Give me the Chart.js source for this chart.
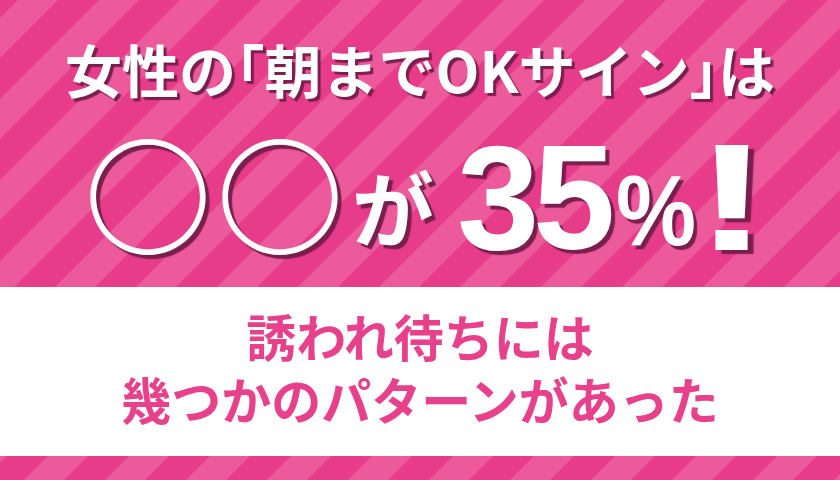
<!DOCTYPE html>
<html lang="ja">
<head>
<meta charset="utf-8">
<script src="https://cdn.jsdelivr.net/npm/chart.js@4.4.1/dist/chart.umd.min.js"></script>
<style>
  html,body{margin:0;padding:0;width:840px;height:480px;overflow:hidden;background:#e73c8a;}
  #wrap{position:relative;width:840px;height:480px;}
  #c{position:absolute;left:0;top:0;}
  .t{position:absolute;white-space:nowrap;line-height:1;margin:0;}
  .jp{font-family:"Noto Sans CJK JP","Noto Sans",sans-serif;font-weight:700;}
  .en{font-family:"Liberation Sans",Arial,sans-serif;font-weight:700;}
  .w{color:#fff;}
  .sh3{text-shadow:3px 3px 1px #7a1f4d;}
  .sh4{text-shadow:4px 4px 1px #7a1f4d;}
  .pk{color:#e8418b;}
  .bl{margin-left:-0.5em;}
  .br{margin-right:-0.5em;}
</style>
</head>
<body>
<div id="wrap">
  <canvas id="c" width="840" height="480"></canvas>
</div>
<script>
// ---- content ----
const headline = ["女性の", "「", "朝までOKサイン", "」", "は"];
const placeholder = ["○", "○"];
const particle = ["が"];
const percentValue = [35];
const percentSign = ["%"];
const exclaim = ["!"];
const subLines = ["誘われ待ちには", "幾つかのパターンがあった"];

// ---- palette ----
const pinkDark = "#e73c8a";
const pinkLight = "#ed5a9c";
const bandColor = "#ffffff";

// white band vertical extent, in axis units (0 = bottom, 480 = top)
const bandRange = [24, 193];

// Background painter (stripes + white band) as a Chart.js plugin
const bannerBackground = {
  id: "bannerBackground",
  beforeDraw(chart) {
    const ctx = chart.ctx;
    const W = chart.width, H = chart.height;
    ctx.save();
    ctx.fillStyle = pinkDark;
    ctx.fillRect(0, 0, W, H);
    ctx.fillStyle = pinkLight;
    const P = 81, L = 40, off = 18;
    for (let x0 = off - 2 * P; x0 < W + H + P; x0 += P) {
      ctx.beginPath();
      ctx.moveTo(x0, 0);
      ctx.lineTo(x0 + L, 0);
      ctx.lineTo(x0 + L - H, H);
      ctx.lineTo(x0 - H, H);
      ctx.closePath();
      ctx.fill();
    }
    const yTop = chart.scales.y.getPixelForValue(bandRange[1]);
    const yBot = chart.scales.y.getPixelForValue(bandRange[0]);
    ctx.fillStyle = bandColor;
    ctx.fillRect(0, yTop, W, yBot - yTop);
    ctx.restore();
  }
};

new Chart(document.getElementById("c"), {
  type: "scatter",
  data: { datasets: [{ data: [], pointRadius: 0 }] },
  options: {
    responsive: false,
    animation: false,
    devicePixelRatio: 1,
    layout: { padding: 0 },
    plugins: { legend: { display: false }, tooltip: { enabled: false }, title: { display: false } },
    scales: {
      x: { display: false, min: 0, max: 840 },
      y: { display: false, min: 0, max: 480 }
    }
  },
  plugins: [bannerBackground]
});

// ---- text as real text ----
const wrap = document.getElementById("wrap");
function addText(txt, cls, left, top, size, extra) {
  const d = document.createElement("div");
  d.className = "t " + cls;
  d.textContent = txt;
  d.style.fontSize = size + "px";
  d.style.top = top + "px";
  if (left === "center") { d.style.left = "0px"; d.style.width = "840px"; d.style.textAlign = "center"; }
  else d.style.left = left + "px";
  if (extra) Object.assign(d.style, extra);
  wrap.appendChild(d);
  return d;
}
// headline with tightened corner brackets
const h = addText("", "jp w sh3", "center", 40, 57);
headline.forEach((part, i) => {
  const s = document.createElement("span");
  s.textContent = part;
  if (part === "「") s.className = "bl";
  if (part === "」") s.className = "br";
  h.appendChild(s);
});

addText(placeholder[0], "jp w sh4", 84, 127, 128);
addText(placeholder[1], "jp w sh4", 216, 127, 128);
addText(particle[0], "jp w sh4", 352, 165, 82);
const digits = String(percentValue[0]).split("");
addText(digits[0], "en w sh4", 457, 124, 148);
addText(digits[1], "en w sh4", 533, 124, 148);
addText(percentSign[0], "en w sh4", 616, 160, 100, { transform: "scaleX(0.9)", transformOrigin: "0 0" });
addText(exclaim[0], "en w sh4", 694, 121, 152, { transform: "scaleX(1.5)", transformOrigin: "0 0" });
addText(subLines[0], "jp pk", "center", 310, 50);
addText(subLines[1], "jp pk", "center", 373, 50);
</script>
</body>
</html>
